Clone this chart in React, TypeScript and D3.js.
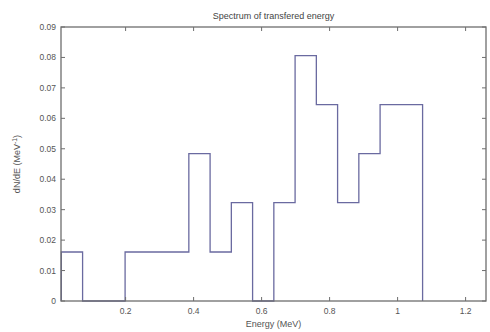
import React from "react";
import * as d3 from "d3";

// Histogram of transferred energy: bin edges start and width (MeV), bin densities
const binStart = 0.011;
const binWidth = 0.0625;
const density = [
  0.0161, 0, 0, 0.0161, 0.0161, 0.0161, 0.0484, 0.0161, 0.0323, 0,
  0.0323, 0.0806, 0.0645, 0.0323, 0.0484, 0.0645, 0.0645,
];
const xTicks = [0.2, 0.4, 0.6, 0.8, 1, 1.2];
const yTicks = [0, 0.01, 0.02, 0.03, 0.04, 0.05, 0.06, 0.07, 0.08, 0.09];

const W = 490;
const H = 332;
const M = { left: 61, right: 4, top: 27, bottom: 31 };

export default function App() {
  const x = d3.scaleLinear().domain([0.01, 1.26]).range([M.left, W - M.right]);
  const y = d3.scaleLinear().domain([0, 0.09]).range([H - M.bottom, M.top]);

  const pts: [number, number][] = [[binStart, 0]];
  density.forEach((v, i) => pts.push([binStart + i * binWidth, v]));
  pts.push([binStart + density.length * binWidth, 0]);
  const line = d3
    .line<[number, number]>()
    .x((d) => x(d[0]))
    .y((d) => y(d[1]))
    .curve(d3.curveStepAfter);

  const x0 = M.left;
  const x1 = W - M.right;
  const y0 = H - M.bottom;
  const y1 = M.top;
  const tl = 4;
  const axisColor = "#6e6e6e";
  const textColor = "#555";
  const font = "Liberation Sans, Arial, sans-serif";

  return (
    <svg
      width={W}
      height={H}
      style={{ position: "absolute", left: 0, top: 0, background: "#fff" }}
      fontFamily={font}
    >
      <rect x={0} y={0} width={W} height={H} fill="#fff" />
      <path d={line(pts) ?? ""} fill="none" stroke="#6a6aa0" strokeWidth={1.3} />
      {/* box */}
      <rect
        x={x0}
        y={y1}
        width={x1 - x0}
        height={y0 - y1}
        fill="none"
        stroke={axisColor}
        strokeWidth={1.3}
      />
      {xTicks.map((t) => (
        <g key={"x" + t}>
          <line x1={x(t)} x2={x(t)} y1={y0} y2={y0 - tl} stroke={axisColor} />
          <line x1={x(t)} x2={x(t)} y1={y1} y2={y1 + tl} stroke={axisColor} />
          <text
            x={x(t)}
            y={y0 + 13}
            textAnchor="middle"
            fontSize={8.5}
            fill={textColor}
          >
            {String(t)}
          </text>
        </g>
      ))}
      {yTicks.map((t) => (
        <g key={"y" + t}>
          <line x1={x0} x2={x0 + tl} y1={y(t)} y2={y(t)} stroke={axisColor} />
          <line x1={x1} x2={x1 - tl} y1={y(t)} y2={y(t)} stroke={axisColor} />
          <text
            x={x0 - 5}
            y={y(t) + 3}
            textAnchor="end"
            fontSize={8.5}
            fill={textColor}
          >
            {String(t)}
          </text>
        </g>
      ))}
      <text
        x={(x0 + x1) / 2}
        y={19}
        textAnchor="middle"
        fontSize={9}
        fill="#444"
      >
        Spectrum of transfered energy
      </text>
      <text
        x={(x0 + x1) / 2}
        y={H - 5}
        textAnchor="middle"
        fontSize={9}
        fill={textColor}
      >
        Energy (MeV)
      </text>
      <text
        transform={`translate(${20},${(y0 + y1) / 2}) rotate(-90)`}
        textAnchor="middle"
        fontSize={9}
        fill={textColor}
      >
        dN/dE (MeV<tspan dy={-3} fontSize={7}>-1</tspan>
        <tspan dy={3}>)</tspan>
      </text>
    </svg>
  );
}
